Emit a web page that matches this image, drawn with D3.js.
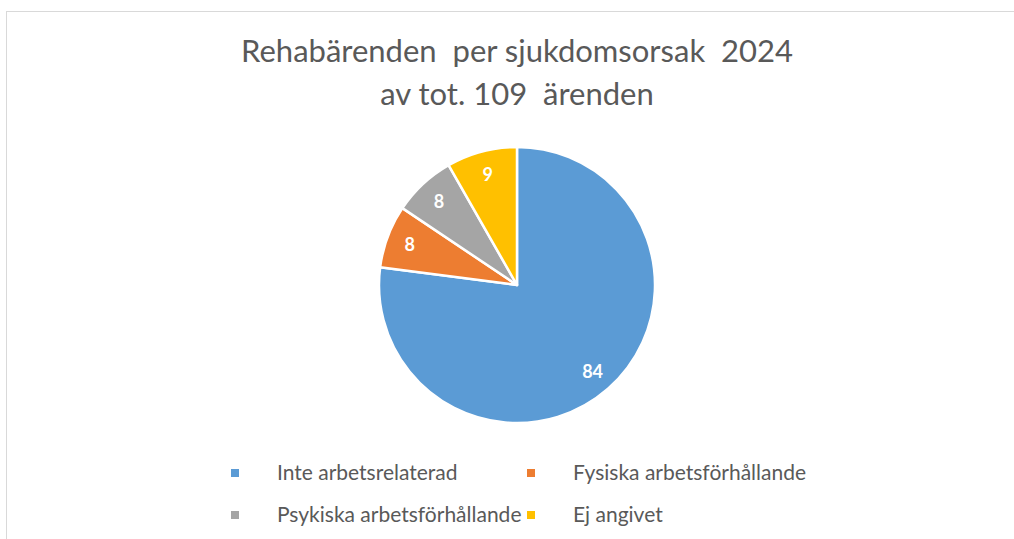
<!DOCTYPE html>
<html>
<head>
<meta charset="utf-8">
<script src="https://cdn.jsdelivr.net/npm/d3@7"></script>
<style>
  body { margin: 0; background: #fff; }
  svg { display: block; }
</style>
</head>
<body>
<svg id="chart"></svg>
<script>
// data
const categories = ["Inte arbetsrelaterad", "Fysiska arbetsförhållande", "Psykiska arbetsförhållande", "Ej angivet"];
const values = [84, 8, 8, 9];
const colors = ["#5b9bd5", "#ed7d31", "#a5a5a5", "#ffc000"];
const titleLines = ["Rehabärenden  per sjukdomsorsak  2024", "av tot. 109  ärenden"];

const width = 1014, height = 539;
const font = "Lato, Calibri, 'Open Sans', sans-serif";

const svg = d3.select("#chart")
  .attr("width", width)
  .attr("height", height);

// chart area border (runs off the right/bottom edge)
svg.append("rect")
  .attr("x", 6.5)
  .attr("y", 11.5)
  .attr("width", width + 20)
  .attr("height", height + 20)
  .style("fill", "#fff")
  .style("stroke", "#d9d9d9")
  .style("stroke-width", 1);

// title
svg.append("g").selectAll("text")
  .data(titleLines)
  .join("text")
  .attr("x", 517)
  .attr("y", (d, i) => 62 + i * 43)
  .style("text-anchor", "middle")
  .style("font-family", font)
  .style("font-size", "31px")
  .style("fill", "#595959")
  .style("white-space", "pre")
  .text(d => d);

// pie
const cx = 517, cy = 285, radius = 138;
const pie = d3.pie().sort(null).value(d => d.value);
const arcs = pie(categories.map((c, i) => ({ name: c, value: values[i], color: colors[i] })));
const arc = d3.arc().innerRadius(0).outerRadius(radius);
const labelArc = d3.arc().innerRadius(radius * 0.83).outerRadius(radius * 0.83);

const g = svg.append("g").attr("transform", "translate(" + cx + "," + cy + ")");

g.selectAll("path")
  .data(arcs)
  .join("path")
  .attr("d", arc)
  .style("fill", d => d.data.color)
  .style("stroke", "#fff")
  .style("stroke-width", 2.5)
  .style("stroke-linejoin", "round");

g.selectAll("text")
  .data(arcs)
  .join("text")
  .attr("transform", d => "translate(" + labelArc.centroid(d) + ")")
  .attr("dy", "0.36em")
  .style("text-anchor", "middle")
  .style("font-family", font)
  .style("font-size", "18px")
  .style("font-weight", "bold")
  .style("fill", "#fff")
  .text(d => d.data.value);

// legend, two columns
const legend = svg.append("g")
  .selectAll("g")
  .data(categories)
  .join("g")
  .attr("transform", (d, i) => "translate(" + (i % 2 === 0 ? 231 : 527) + "," + (473 + Math.floor(i / 2) * 42) + ")");

legend.append("rect")
  .attr("x", 0)
  .attr("y", -4)
  .attr("width", 8)
  .attr("height", 8)
  .style("fill", (d, i) => colors[i]);

legend.append("text")
  .attr("x", 46)
  .attr("dy", "0.35em")
  .style("font-family", font)
  .style("font-size", "21px")
  .style("fill", "#595959")
  .text(d => d);
</script>
</body>
</html>
